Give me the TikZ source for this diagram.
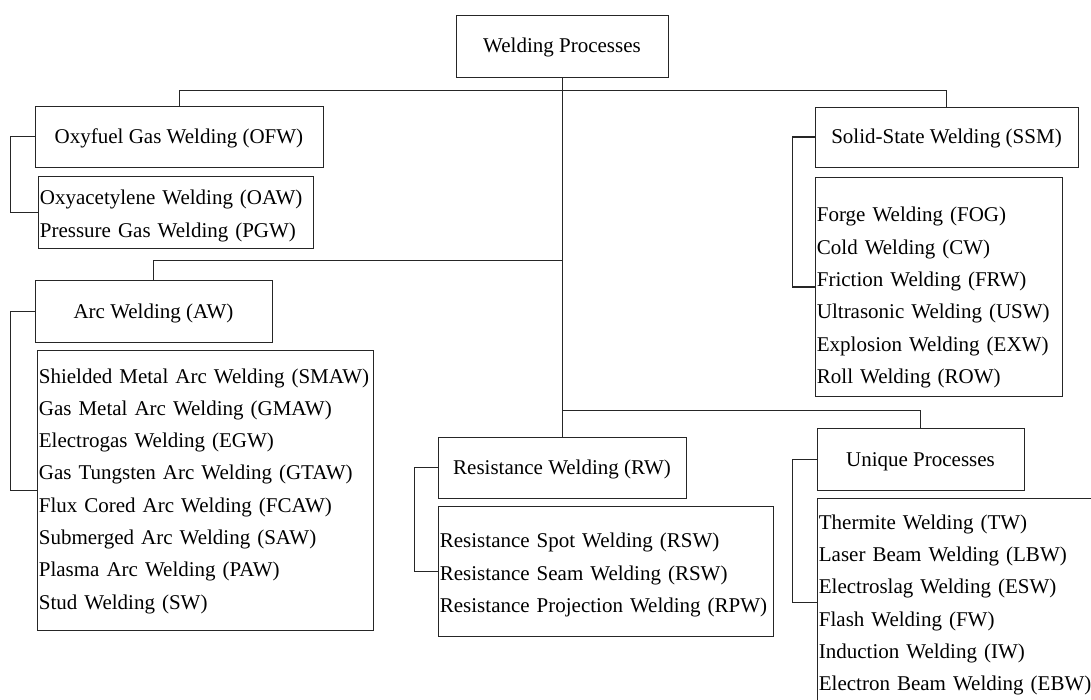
\documentclass[tikz,border=0pt]{standalone}
\usepackage{fontspec}
\setmainfont{Liberation Serif}
\begin{document}
\begin{tikzpicture}[
    x=1pt, y=-1pt,
    every node/.style={font=\fontsize{21}{32.3}\selectfont},
    catbox/.style={rectangle, draw=black!85, line width=0.8pt, inner sep=0pt,
        text height=17pt, text depth=3pt},
    listbox/.style={rectangle, draw=black!85, line width=0.8pt, anchor=north west,
        align=left, inner xsep=1.5pt, inner ysep=0pt},
    link/.style={draw=black!85, line width=0.8pt}
]
    \useasboundingbox (0,0) rectangle (1091,700);
    \clip (0,0) rectangle (1091,700);

    % --- Root ---
    \node[catbox, minimum width=212, minimum height=62] (root) at (562, 46) {Welding Processes};

    % --- Oxyfuel gas welding ---
    \node[catbox, minimum width=288, minimum height=61] (ofw) at (179, 136.5) {Oxyfuel Gas Welding (OFW)};
    \node[listbox, text width=272, minimum height=72] (ofwlist) at (38, 176)
        {\rule{0pt}{22pt}Oxyacetylene Welding (OAW)\\Pressure Gas Welding (PGW)};

    % --- Arc welding ---
    \node[catbox, minimum width=237, minimum height=62] (aw) at (153.5, 311) {Arc Welding (AW)};
    \node[listbox, text width=333, minimum height=280] (awlist) at (37, 350)
        {\rule{0pt}{16pt}Shielded Metal Arc Welding (SMAW)\\Gas Metal Arc Welding (GMAW)\\Electrogas Welding (EGW)\\Gas Tungsten Arc Welding (GTAW)\\Flux Cored Arc Welding (FCAW)\\Submerged Arc Welding (SAW)\\Plasma Arc Welding (PAW)\\Stud Welding (SW)};

    % --- Solid-state welding ---
    \node[catbox, minimum width=263, minimum height=60] (ssw) at (946.5, 137) {Solid-State Welding (SSM)};
    \node[listbox, text width=244, minimum height=219] (sswlist) at (815, 177)
        {\rule{0pt}{36pt}Forge Welding (FOG)\\Cold Welding (CW)\\Friction Welding (FRW)\\Ultrasonic Welding (USW)\\Explosion Welding (EXW)\\Roll Welding (ROW)};

    % --- Resistance welding ---
    \node[catbox, minimum width=248, minimum height=61] (rw) at (562, 467.5) {Resistance Welding (RW)};
    \node[listbox, text width=332, minimum height=130] (rwlist) at (438, 506)
        {\rule{0pt}{22pt}Resistance Spot Welding (RSW)\\Resistance Seam Welding (RSW)\\Resistance Projection Welding (RPW)};

    % --- Unique processes ---
    \node[catbox, minimum width=207, minimum height=62] (up) at (920.5, 459) {Unique Processes};
    \node[listbox, text width=297, minimum height=208] (uplist) at (817, 498)
        {\rule{0pt}{20pt}Thermite Welding (TW)\\Laser Beam Welding (LBW)\\Electroslag Welding (ESW)\\Flash Welding (FW)\\Induction Welding (IW)\\Electron Beam Welding (EBW)};

    % --- Tree links ---
    \draw[link] (root.south) -- (rw.north);
    \draw[link] (ofw.north) -- ++(0,-15) -| (ssw.north);
    \draw[link] (aw.north) -- ++(0,-19) -| (root.south);
    \draw[link] (up.north) -- ++(0,-17) -| (root.south);

    % --- Brackets to the lists ---
    \draw[link] (ofw.west) -- ++(-24,0) |- (ofwlist.west);
    \draw[link] (aw.west) -- ++(-24,0) |- (awlist.west);
    \draw[link, line width=1.4pt] (ssw.west) -- ++(-22,0) |- (sswlist.west);
    \draw[link] (rw.west) -- ++(-23,0) |- (rwlist.west);
    \draw[link] (up.west) -- ++(-24,0) |- (uplist.west);
\end{tikzpicture}
\end{document}
